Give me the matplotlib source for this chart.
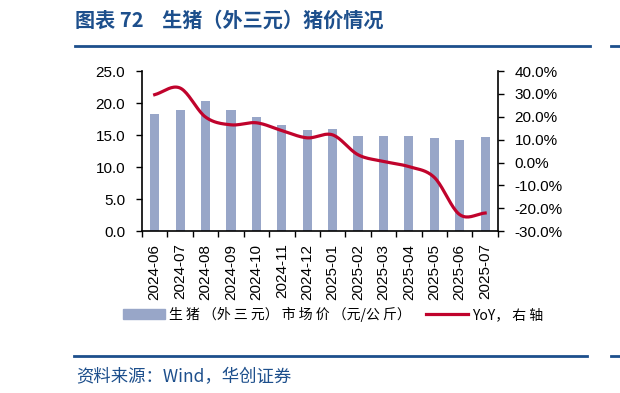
import numpy as np
import matplotlib
matplotlib.use('Agg')
import matplotlib.pyplot as plt
from matplotlib.lines import Line2D
from matplotlib.patches import Patch

plt.rcParams['font.family'] = ['Liberation Sans', 'Noto Sans CJK SC', 'DejaVu Sans']

months = ['2024-06', '2024-07', '2024-08', '2024-09', '2024-10', '2024-11', '2024-12',
          '2025-01', '2025-02', '2025-03', '2025-04', '2025-05', '2025-06', '2025-07']
price = [18.3, 18.9, 20.4, 19.0, 17.8, 16.6, 15.8, 15.9, 14.9, 14.8, 14.8, 14.6, 14.3, 14.7]
yoy = [29.7, 32.6, 19.9, 16.5, 17.4, 14.0, 10.8, 12.1, 3.4, 0.5, -1.8, -6.5, -22.8, -22.1]

title = '图表 72    生猪（外三元）猪价情况'
bar_label = '生 猪 （外 三 元） 市 场 价 （元/公 斤）'
line_label = 'YoY， 右 轴'
source = '资料来源：Wind，华创证券'

BLUE = '#1d4f8c'
BAR = '#98a6c8'
RED = '#c0032c'


def smooth(x, y, n=20):
    '''Catmull-Rom curve through the points, like a smoothed Excel line.'''
    x = np.asarray(x, float)
    y = np.asarray(y, float)
    px = np.concatenate([[2 * x[0] - x[1]], x, [2 * x[-1] - x[-2]]])
    py = np.concatenate([[2 * y[0] - y[1]], y, [2 * y[-1] - y[-2]]])
    t = np.linspace(0, 1, n, endpoint=False)
    xs, ys = [], []
    for i in range(1, len(px) - 2):
        for p, out in ((px, xs), (py, ys)):
            p0, p1, p2, p3 = p[i - 1], p[i], p[i + 1], p[i + 2]
            out.extend(0.5 * (2 * p1 + (-p0 + p2) * t + (2 * p0 - 5 * p1 + 4 * p2 - p3) * t ** 2
                              + (-p0 + 3 * p1 - 3 * p2 + p3) * t ** 3))
    xs.append(x[-1])
    ys.append(y[-1])
    return np.array(xs), np.array(ys)


fig = plt.figure(figsize=(6.2, 3.93), dpi=100)
ax = fig.add_axes([0.229, 0.412, 0.574, 0.407])
pos = np.arange(len(months))
ax.bar(pos, price, width=0.36, color=BAR, zorder=2)
ax.set_xlim(-0.5, len(months) - 0.5)
ax.set_ylim(0, 25)
ax.set_yticks(np.arange(0, 25.1, 5))
ax.set_yticklabels(['%.1f' % v for v in np.arange(0, 25.1, 5)], fontsize=11)
ax.set_xticks(pos)
ax.set_xticklabels(months, rotation=90, fontsize=11)
ax.set_xticks(np.arange(-0.5, len(months), 1), minor=True)
ax.tick_params(axis='x', which='major', length=0, pad=9)
ax.tick_params(axis='x', which='minor', length=4, width=1)
ax.tick_params(axis='y', length=4, width=1, pad=8)
ax.spines['top'].set_visible(False)
ax.spines['right'].set_visible(False)
for s in ('left', 'bottom'):
    ax.spines[s].set_linewidth(1.2)

ax2 = ax.twinx()
sx, sy = smooth(pos, yoy)
ax2.plot(sx, sy, color=RED, lw=2.3, zorder=3)
ax2.set_ylim(-30, 40)
ax2.set_yticks(np.arange(-30, 41, 10))
ax2.set_yticklabels(['%.1f%%' % v for v in np.arange(-30, 41, 10)], fontsize=11)
ax2.tick_params(axis='y', length=4, width=1, pad=8)
ax2.spines['top'].set_visible(False)
ax2.spines['left'].set_visible(False)
ax2.spines['bottom'].set_visible(False)
ax2.spines['right'].set_linewidth(1.2)

handles = [Patch(color=BAR), Line2D([], [], color=RED, lw=2.3)]
fig.legend(handles, [bar_label, line_label], loc='center', bbox_to_anchor=(0.537, 0.2),
           ncol=2, frameon=False, handlelength=3.0, handleheight=0.8,
           handletextpad=0.3, columnspacing=1.1,
           prop={'family': ['Noto Sans CJK SC', 'DejaVu Sans'], 'size': 10})

fig.text(0.121, 0.949, title, fontsize=14.5, fontweight='bold', color=BLUE,
         va='center', ha='left', family=['Noto Sans CJK SC', 'DejaVu Sans'])
fig.add_artist(Line2D([0.121, 0.952], [0.883, 0.883], color=BLUE, lw=2))
fig.add_artist(Line2D([0.985, 1.0], [0.883, 0.883], color=BLUE, lw=2))
fig.add_artist(Line2D([0.119, 0.947], [0.094, 0.094], color=BLUE, lw=2))
fig.add_artist(Line2D([0.985, 1.0], [0.094, 0.094], color=BLUE, lw=2))
fig.text(0.123, 0.041, source, fontsize=12.5, color=BLUE, style='italic',
         va='center', ha='left', family=['Noto Sans CJK SC', 'DejaVu Sans'])

fig.savefig('out.png', dpi=100)
